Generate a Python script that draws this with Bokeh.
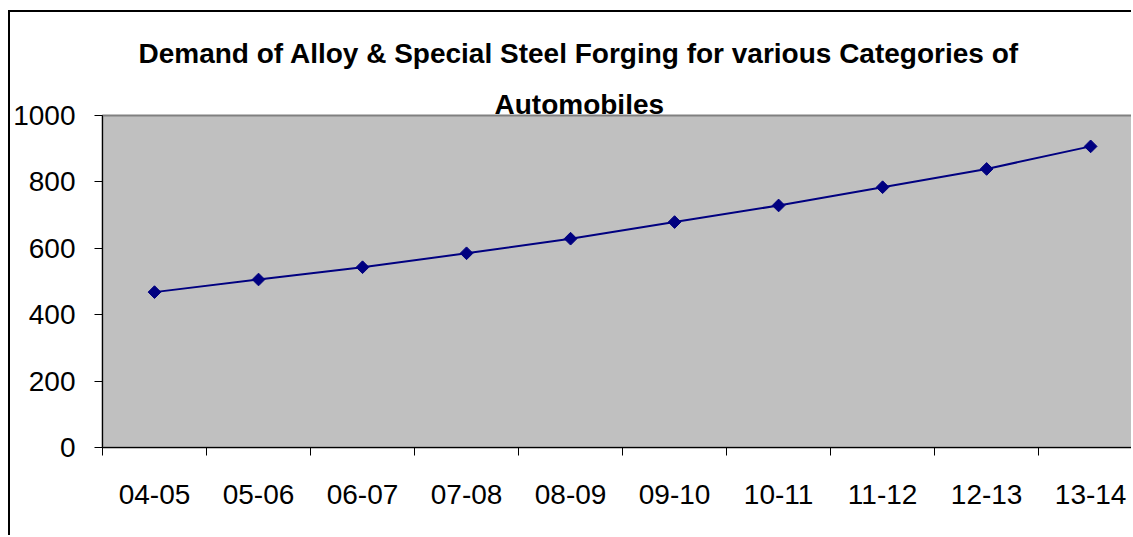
from bokeh.plotting import figure
from bokeh.models import Range1d, FixedTicker, Title, ColumnDataSource
from bokeh.embed import file_html
from bokeh.resources import INLINE

title_line1 = "Demand of Alloy & Special Steel Forging for various Categories of"
title_line2 = "Automobiles"
categories = ["04-05", "05-06", "06-07", "07-08", "08-09", "09-10", "10-11", "11-12", "12-13", "13-14"]
demand = [468, 506, 543, 585, 629, 679, 729, 784, 839, 907]
y_ticks = [0, 200, 400, 600, 800, 1000]

FONT = "Liberation Sans"

xs = [i + 0.5 for i in range(len(categories))]
source = ColumnDataSource(data=dict(x=xs, y=demand, cat=categories))

p = figure(width=1123, height=525,
           x_range=Range1d(0, 9.912), y_range=Range1d(0, 1000),
           output_backend="svg", toolbar_location=None,
           min_border_left=90, min_border_right=0, min_border_bottom=90, min_border_top=103,
           background_fill_color="#C0C0C0", border_fill_color="white",
           outline_line_color="#808080", outline_line_width=2)
p.styles = {"margin-left": "8px", "margin-top": "10px",
            "border-left": "2px solid black", "border-top": "2px solid black"}

p.add_layout(Title(text=title_line2, align="left", offset=392, text_font=FONT,
                   text_font_size="28px", text_font_style="bold", text_color="black",
                   standoff=-9), "above")
p.add_layout(Title(text=title_line1, align="left", offset=36, text_font=FONT,
                   text_font_size="28px", text_font_style="bold", text_color="black",
                   standoff=45), "above")

p.grid.visible = False

# x axis: labels at category centres, tick marks at category boundaries
xt = FixedTicker(ticks=xs, minor_ticks=list(range(len(categories) + 1)))
p.xaxis.ticker = xt
p.xaxis.major_label_overrides = {x: c for x, c in zip(xs, categories)}
p.xaxis.major_tick_line_color = None
p.xaxis.minor_tick_line_color = "black"
p.xaxis.minor_tick_in = 0
p.xaxis.minor_tick_out = 8
p.xaxis.axis_line_color = "black"
p.xaxis.major_label_text_font = FONT
p.xaxis.major_label_text_font_size = "28px"
p.xaxis.major_label_text_color = "black"
p.xaxis.major_label_standoff = 29

p.yaxis.ticker = FixedTicker(ticks=y_ticks)
p.yaxis.minor_tick_line_color = None
p.yaxis.major_tick_in = 0
p.yaxis.major_tick_out = 8
p.yaxis.major_tick_line_color = "black"
p.yaxis.axis_line_color = "black"
p.yaxis.major_label_text_font = FONT
p.yaxis.major_label_text_font_size = "28px"
p.yaxis.major_label_text_color = "black"
p.yaxis.major_label_standoff = 19

p.line("x", "y", source=source, line_color="#000080", line_width=2)
p.scatter("x", "y", source=source, marker="square", angle=0.785398, size=9,
          fill_color="#000080", line_color="#000080")

open("out.html", "w").write(file_html(p, INLINE))
